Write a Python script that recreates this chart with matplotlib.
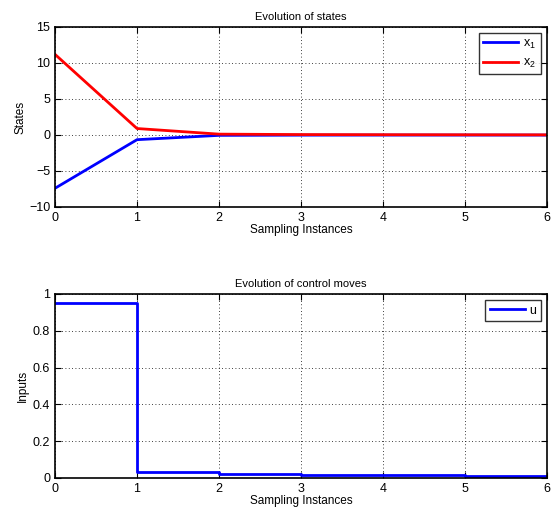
import numpy as np
import matplotlib
matplotlib.use("Agg")
import matplotlib.pyplot as plt

# --- data ---
k = [0, 1, 2, 3, 4, 5, 6]
x1 = [-7.4, -0.65, -0.05, -0.02, -0.01, -0.01, -0.01]
x2 = [11.2, 0.9, 0.12, 0.06, 0.04, 0.03, 0.02]
u = [0.95, 0.035, 0.022, 0.018, 0.015, 0.012, 0.012]

plt.rcParams['font.family'] = ['Liberation Sans', 'DejaVu Sans']
plt.rcParams['font.size'] = 9
plt.rcParams['mathtext.fontset'] = 'custom'
plt.rcParams['mathtext.rm'] = 'Liberation Sans'
plt.rcParams['mathtext.it'] = 'Liberation Sans'
plt.rcParams['mathtext.default'] = 'regular'

fig = plt.figure(figsize=(5.55, 5.08), dpi=100)
W, H = 555, 508
ax1 = fig.add_axes([55 / W, 1 - 207 / H, 492 / W, 180 / H])
ax2 = fig.add_axes([55 / W, 1 - 478 / H, 492 / W, 184 / H])


def matlab_style(ax):
    ax.grid(True, linestyle=(0, (1, 3)), color='black', linewidth=0.6)
    ax.tick_params(direction='in', top=True, right=True, length=4, width=0.8, labelsize=9)
    for s in ax.spines.values():
        s.set_linewidth(1.2)


def add_legend(ax):
    leg = ax.legend(loc='upper right', fancybox=False, edgecolor='black', fontsize=9,
                    handlelength=2.8, borderpad=0.35, handletextpad=0.4,
                    labelspacing=0.5, borderaxespad=0.5)
    leg.get_frame().set_linewidth(1.0)


ax1.plot(k, x1, color='blue', lw=2, label='x$_1$')
ax1.plot(k, x2, color='red', lw=2, label='x$_2$')
ax1.set_xlim(0, 6)
ax1.set_ylim(-10, 15)
ax1.set_yticks([-10, -5, 0, 5, 10, 15])
ax1.set_title('Evolution of states', fontsize=8, pad=5)
ax1.set_xlabel('Sampling Instances', fontsize=8.5, labelpad=0)
ax1.set_ylabel('States', fontsize=8.5, labelpad=2)
matlab_style(ax1)
add_legend(ax1)

ax2.step(k, u, where='post', color='blue', lw=2, label='u')
ax2.set_xlim(0, 6)
ax2.set_ylim(0, 1)
ax2.set_yticks([0, 0.2, 0.4, 0.6, 0.8, 1])
ax2.set_yticklabels(['0', '0.2', '0.4', '0.6', '0.8', '1'])
ax2.set_title('Evolution of control moves', fontsize=8, pad=5)
ax2.set_xlabel('Sampling Instances', fontsize=8.5, labelpad=0)
ax2.set_ylabel('Inputs', fontsize=8.5, labelpad=3)
matlab_style(ax2)
add_legend(ax2)

fig.savefig('out.png', dpi=100)
